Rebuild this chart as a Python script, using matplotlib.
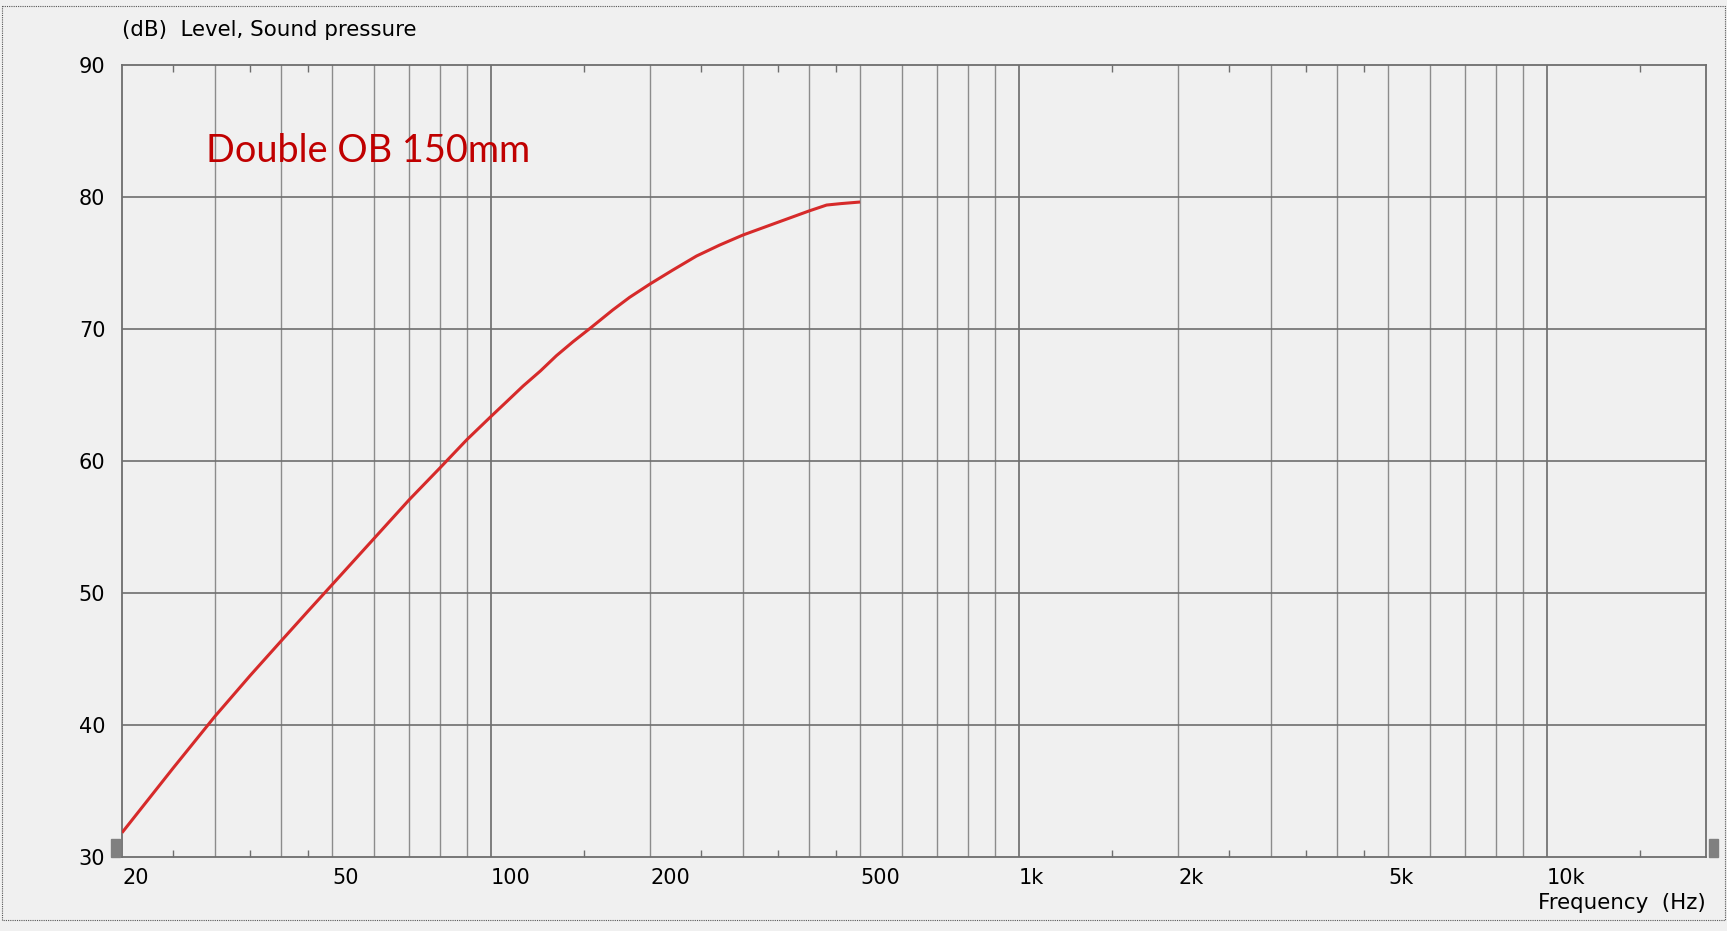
import numpy as np
import matplotlib.pyplot as plt
from matplotlib.patches import Rectangle
from matplotlib.lines import Line2D

# frequency response (Hz, dB)
freq = [20, 25, 30, 35, 40, 45, 50, 60, 70, 80, 90, 100, 107, 115, 124, 133,
        143, 154, 170, 183, 200, 221, 245, 271, 300, 348, 400, 432, 460, 500]
spl = [31.84, 36.74, 40.66, 43.76, 46.35, 48.62, 50.63, 54.12, 57.07, 59.47,
       61.62, 63.38, 64.49, 65.68, 66.82, 67.98, 69.04, 70.05, 71.44, 72.40,
       73.41, 74.47, 75.53, 76.36, 77.12, 78.06, 78.94, 79.39, 79.50, 79.62]

xtick_vals = [20, 50, 100, 200, 500, 1000, 2000, 5000, 10000]
xtick_labels = ['20', '50', '100', '200', '500', '1k', '2k', '5k', '10k']
ytick_vals = [30, 40, 50, 60, 70, 80, 90]
grid_freqs = [m * d for d in (10, 100, 1000) for m in range(1, 10) if m * d > 20] + [10000]
minor_freqs = [m * d for d in (10, 100, 1000, 10000) for m in (1.5, 2.5, 3.5, 4.5) if m * d < 20000]
minor_freqs = [f for f in minor_freqs if f > 20]

bg = '#f0f0f0'
fig = plt.figure(figsize=(17.27, 9.31), dpi=100, facecolor=bg)
ax = fig.add_axes([122 / 1727, 1 - 857 / 931, 1584 / 1727, 792 / 931], facecolor=bg)

ax.set_xscale('log')
ax.set_xlim(20, 20000)
ax.set_ylim(30, 90)

# grid
for f in grid_freqs:
    major = f in (100, 1000, 10000)
    ax.axvline(f, color='#6a6a6a' if major else '#8c8c8c', lw=1.2 if major else 1.0, zorder=1)
for v in ytick_vals[1:-1]:
    ax.axhline(v, color='#6e6e6e', lw=1.2, zorder=1)

ax.plot(freq, spl, color='#d62a2a', lw=2.2, zorder=3, solid_capstyle='butt')

ax.set_xticks(xtick_vals)
ax.set_xticklabels(xtick_labels)
ax.set_xticks(minor_freqs, minor=True)
ax.xaxis.set_minor_formatter(plt.NullFormatter())
ax.tick_params(axis='x', which='major', length=0, pad=8, labelsize=15)
ax.tick_params(axis='x', which='minor', direction='in', length=5, width=1,
               color='#6e6e6e', top=True, bottom=True)
for lab in ax.get_xticklabels():
    lab.set_horizontalalignment('left')
ax.set_yticks(ytick_vals)
ax.tick_params(axis='y', length=0, pad=12, labelsize=15)

for s in ax.spines.values():
    s.set_color('#6e6e6e')
    s.set_linewidth(1.3)

fig.text(122 / 1727, 1 - 30 / 931, '(dB)  Level, Sound pressure', fontsize=15.4,
         ha='left', va='center')
fig.text(1706 / 1727, 1 - 903 / 931, 'Frequency  (Hz)', fontsize=15.4,
         ha='right', va='center')
ax.text(206 / 1727, 1 - 151 / 931, 'Double OB 150mm', transform=fig.transFigure,
        fontsize=27.3, color='#c00000', family='Lato', ha='left', va='center')

# scroll markers
fig.patches.append(Rectangle((111 / 1727, 1 - 857 / 931), 9 / 1727, 18 / 931,
                             transform=fig.transFigure, color='#808080'))
fig.patches.append(Rectangle((1709 / 1727, 1 - 857 / 931), 9 / 1727, 18 / 931,
                             transform=fig.transFigure, color='#808080'))

# dotted frame
fig.lines.append(Line2D([2 / 1727, 1725 / 1727, 1725 / 1727, 2 / 1727, 2 / 1727],
                        [1 - 6 / 931, 1 - 6 / 931, 1 - 920 / 931, 1 - 920 / 931, 1 - 6 / 931],
                        transform=fig.transFigure, color='#555555', lw=0.8,
                        linestyle=(0, (1, 1))))

fig.savefig('out.png', dpi=100, facecolor=bg)
